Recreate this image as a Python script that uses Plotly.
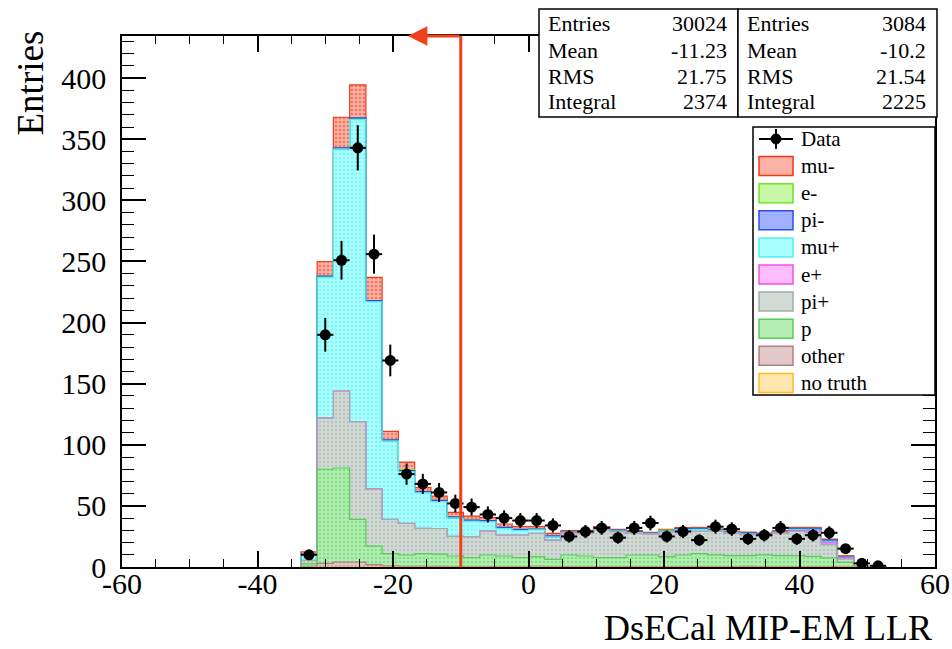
import plotly.graph_objects as go

# ---------------- data ----------------
bin_centers = [-32.4, -30.0, -27.6, -25.2, -22.8, -20.4, -18.0, -15.6, -13.2, -10.8,
               -8.4, -6.0, -3.6, -1.2, 1.2, 3.6, 6.0, 8.4, 10.8, 13.2,
               15.6, 18.0, 20.4, 22.8, 25.2, 27.6, 30.0, 32.4, 34.8, 37.2,
               39.6, 42.0, 44.4, 46.8, 49.2, 51.6]
bin_width = 2.4

data_counts = [10, 190, 251, 343, 256, 169, 76, 68, 61, 52,
               49, 43, 40, 38, 38, 34, 25, 29, 32, 24,
               32, 36, 25, 29, 22, 33, 31, 23, 26, 32,
               23, 26, 28, 15, 3, 1]

mc_no_truth = [0] * 36
mc_other = [0.5, 3, 4, 4, 2, 1, 0.5, 0.5, 0.5, 0.3,
            0.3, 0.3, 0.3, 0.3, 0.5, 0.3, 0.3, 0.3, 0.3, 0.3,
            0.3, 0.3, 0.3, 0.3, 0.3, 0.3, 0.3, 0.5, 0.3, 0.3,
            0.3, 0.3, 0.3, 0.2, 0, 0]
mc_p = [2, 77, 77, 35, 15, 10, 9.3, 10.5, 10, 8.7,
        7.3, 9.5, 8.7, 7.3, 8, 6, 9.5, 8.7, 7.3, 7.3,
        9.5, 9.5, 8.2, 9.5, 10.6, 9.7, 9, 8.8, 9.7, 9,
        9, 8.4, 7.1, 3.6, 0.3, 0]
mc_piplus = [3, 42, 63, 80, 47, 28, 26, 20.6, 21, 16,
             17.2, 19.6, 17.2, 18.6, 19, 15.7, 18.2, 19, 23.2, 21.3,
             17.7, 17.2, 20.4, 19.9, 18.3, 19.2, 18.5, 17.1, 15.6, 18.5,
             19.9, 19.7, 10.9, 2.7, 0.2, 0]
mc_eplus = [0, 0, 0, 0, 0, 0, 0, 0, 0, 0,
            0, 0, 0, 0, 0, 0, 0, 0, 0, 0,
            0, 0, 0, 0, 0, 0, 0, 0, 0, 0,
            0.5, 1, 1.5, 1, 0, 0]
mc_muplus = [4.5, 115, 198, 247, 153, 64, 42, 29, 22, 15,
             12.6, 7.5, 5.2, 3.6, 3, 2.5, 0.5, 0.5, 1, 0.5,
             0.7, 0.4, 0.5, 1, 1.5, 0.5, 0.3, 0.5, 0.5, 0.7,
             0.7, 0.5, 0.5, 0.3, 0, 0]
mc_piminus = [0.3, 1, 1, 1.5, 1, 1, 1, 1, 1, 1,
              1, 1, 1, 1, 0.5, 1, 0.5, 0.5, 0.5, 0.7,
              0.8, 0.3, 0, 0.8, 1, 0.6, 0.4, 1, 1, 0.5,
              1.3, 1.8, 1.9, 0.5, 0, 0]
mc_eminus = [0, 0, 0, 0, 0, 0, 1, 0, 0, 0,
             0, 0, 0, 0, 0, 0, 0, 0, 0, 0,
             0, 0, 0.7, 0, 0, 0, 0, 0, 0, 0,
             0, 0, 0, 0.5, 0, 0]
mc_muminus = [2, 12, 25, 27, 19, 7, 6, 3.4, 3.5, 3.7,
              3.3, 2.5, 2.8, 2.2, 2, 2, 0.7, 0.7, 0.7, 0.7,
              0.7, 0.7, 0.7, 0.7, 0.7, 0.7, 0.7, 0.7, 0.7, 0.7,
              0.7, 0.7, 0.7, 0.5, 0, 0]

legend_names = ["mu-", "e-", "pi-", "mu+", "e+", "pi+", "p", "other", "no truth"]
stats_labels = ["Entries", "Mean", "RMS", "Integral"]
stats_mc = ["30024", "-11.23", "21.75", "2374"]
stats_data = ["3084", "-10.2", "21.54", "2225"]
x_tickvals = [-60, -40, -20, 0, 20, 40, 60]
x_ticktext = ["-60", "-40", "-20", "0", "20", "40", "60"]
y_tickvals = [0, 50, 100, 150, 200, 250, 300, 350, 400]
y_ticktext = ["0", "50", "100", "150", "200", "250", "300", "350", "400"]
cut_value = -10
arrow_tip = -17.8

# ---------------- style ----------------
FONT = "Liberation Serif"
styles = {
    "mu-": ("#fbb2a4", "#f03a1c"),
    "e-": ("#c8f7a8", "#66e822"),
    "pi-": ("#a0b0ff", "#2a4cf0"),
    "mu+": ("#aaffff", "#55eeee"),
    "e+": ("#ffbcff", "#f050f0"),
    "pi+": ("#d2dad6", "#9fb0a8"),
    "p": ("#b4eeb4", "#55d055"),
    "other": ("#e2c8c8", "#b08080"),
    "no truth": ("#ffe6ae", "#ffbb22"),
}
# stacking order (bottom first)
stack = [("no truth", mc_no_truth), ("other", mc_other), ("p", mc_p),
         ("pi+", mc_piplus), ("e+", mc_eplus), ("mu+", mc_muplus),
         ("pi-", mc_piminus), ("e-", mc_eminus), ("mu-", mc_muminus)]

W, H = 952, 649
L, R, T, B = 122, 935, 36, 567
XMIN, XMAX, YMIN, YMAX = -60, 60, 0, 434.5


def px(x):
    return (x - L) / (R - L)


def py(y):
    return (B - y) / (B - T)


fig = go.Figure()

# stacked bars
cum = [0.0] * len(bin_centers)
tops = []
for name, vals in stack:
    bg, fg = styles[name]
    fig.add_trace(go.Bar(
        x=bin_centers, y=vals, width=bin_width, name=name, showlegend=False,
        marker=dict(color=bg, line=dict(width=0),
                    pattern=dict(shape=".", fgcolor=fg, bgcolor=bg, size=4, solidity=0.35)),
        hoverinfo="skip"))
    cum = [c + v for c, v in zip(cum, vals)]
    tops.append((name, list(cum)))

# step outlines, from top of stack down so lower layers draw over
edges = [c - bin_width / 2 for c in bin_centers] + [bin_centers[-1] + bin_width / 2]
for name, top in reversed(tops):
    xs = [edges[0]] + edges[:len(top)] + [edges[-1]]
    ys = [0] + top + [0]
    fig.add_trace(go.Scatter(x=xs, y=ys, mode="lines",
                             line=dict(color=styles[name][1], width=1.2, shape="hv"),
                             showlegend=False, hoverinfo="skip"))

# data points
errs = [v ** 0.5 for v in data_counts]
fig.add_trace(go.Scatter(
    x=bin_centers, y=data_counts, mode="markers", name="Data", showlegend=False,
    marker=dict(color="black", size=11, symbol="circle"),
    error_y=dict(type="data", array=errs, color="black", thickness=2, width=0),
    error_x=dict(type="constant", value=bin_width / 2, color="black", thickness=2, width=0)))

shapes = []
annotations = []

# cut line + arrow
RED = "#f2401e"
shapes.append(dict(type="line", xref="x", yref="y", x0=cut_value, x1=cut_value, y0=0, y1=YMAX,
                   line=dict(color=RED, width=3), layer="above"))
annotations.append(dict(x=arrow_tip, y=YMAX, ax=cut_value, ay=YMAX, xref="x", yref="y",
                        axref="x", ayref="y", text="", showarrow=True, arrowhead=2,
                        arrowsize=1.3, arrowwidth=3, arrowcolor=RED))

# stats boxes
box_top, box_bot = 9, 117
for (x0, x1) in [(539, 738), (738, 937)]:
    shapes.append(dict(type="rect", xref="paper", yref="paper", x0=px(x0), x1=px(x1),
                       y0=py(box_bot), y1=py(box_top), fillcolor="white",
                       line=dict(color="black", width=1.5), layer="above"))
row_y = [24, 50, 76, 102]
for i, lab in enumerate(stats_labels):
    for lx, vx, vals in [(546, 729, stats_mc), (745, 928, stats_data)]:
        annotations.append(dict(x=px(lx), y=py(row_y[i]), xref="paper", yref="paper", text=lab,
                                showarrow=False, xanchor="left", yanchor="middle",
                                font=dict(family=FONT, size=22, color="black")))
        annotations.append(dict(x=px(vx), y=py(row_y[i]), xref="paper", yref="paper", text=vals[i],
                                showarrow=False, xanchor="right", yanchor="middle",
                                font=dict(family=FONT, size=22, color="black")))

# legend box
shapes.append(dict(type="rect", xref="paper", yref="paper", x0=px(753), x1=px(935),
                   y0=py(395), y1=py(127), fillcolor="white",
                   line=dict(color="black", width=1.5), layer="above"))
row0, dy = 139, 27.1
sx0, sx1 = 759, 793
yc = row0
shapes.append(dict(type="line", xref="paper", yref="paper", x0=px(sx0), x1=px(sx1), y0=py(yc), y1=py(yc),
                   line=dict(color="black", width=2), layer="above"))
shapes.append(dict(type="line", xref="paper", yref="paper", x0=px(776), x1=px(776), y0=py(yc - 10), y1=py(yc + 10),
                   line=dict(color="black", width=2), layer="above"))
shapes.append(dict(type="circle", xref="paper", yref="paper", x0=px(771), x1=px(781), y0=py(yc + 5), y1=py(yc - 5),
                   fillcolor="black", line=dict(color="black", width=1), layer="above"))
annotations.append(dict(x=px(799), y=py(yc), xref="paper", yref="paper", text="Data", showarrow=False,
                        xanchor="left", yanchor="middle", font=dict(family=FONT, size=21, color="black")))
for i, name in enumerate(legend_names):
    yc = row0 + dy * (i + 1)
    bg, fg = styles[name]
    shapes.append(dict(type="rect", xref="paper", yref="paper", x0=px(sx0), x1=px(sx1),
                       y0=py(yc + 9.5), y1=py(yc - 9.5), fillcolor=bg,
                       line=dict(color=fg, width=1.5), layer="above"))
    annotations.append(dict(x=px(799), y=py(yc), xref="paper", yref="paper", text=name, showarrow=False,
                            xanchor="left", yanchor="middle", font=dict(family=FONT, size=21, color="black")))

# axis titles
annotations.append(dict(x=px(30), y=py(29), xref="paper", yref="paper", text="Entries", textangle=-90,
                        showarrow=False, xanchor="center", yanchor="top",
                        font=dict(family=FONT, size=37, color="black")))
annotations.append(dict(x=px(934), y=py(628), xref="paper", yref="paper", text="DsECal MIP-EM LLR",
                        showarrow=False, xanchor="right", yanchor="middle",
                        font=dict(family=FONT, size=36, color="black")))

fig.update_layout(
    width=W, height=H, barmode="stack", bargap=0,
    margin=dict(l=L, r=W - R, t=T, b=H - B, pad=0, autoexpand=False),
    plot_bgcolor="white", paper_bgcolor="white",
    font=dict(family=FONT, size=30, color="black"),
    shapes=shapes, annotations=annotations, showlegend=False,
)
fig.update_xaxes(range=[XMIN, XMAX], tickmode="array", tickvals=x_tickvals, ticktext=x_ticktext,
                 ticks="inside", ticklen=16, tickwidth=1.5, tickcolor="black",
                 minor=dict(dtick=5, tick0=0, ticklen=8, tickwidth=1.2, tickcolor="black", ticks="inside"),
                 showline=True, linecolor="black", linewidth=1.5, mirror="allticks",
                 showgrid=False, zeroline=False, tickfont=dict(family=FONT, size=30),
                 ticklabelstandoff=-11, automargin=False)
fig.update_yaxes(range=[YMIN, YMAX], tickmode="array", tickvals=y_tickvals, ticktext=y_ticktext,
                 ticks="inside", ticklen=24, tickwidth=1.5, tickcolor="black",
                 minor=dict(dtick=10, tick0=0, ticklen=12, tickwidth=1.2, tickcolor="black", ticks="inside"),
                 showline=True, linecolor="black", linewidth=1.5, mirror="allticks",
                 showgrid=False, zeroline=False, tickfont=dict(family=FONT, size=30),
                 ticklabelstandoff=8, automargin=False)

fig.write_html("out.html", config={"displayModeBar": False},
               post_script="document.body.style.margin='0px';document.body.style.overflow='hidden';")
